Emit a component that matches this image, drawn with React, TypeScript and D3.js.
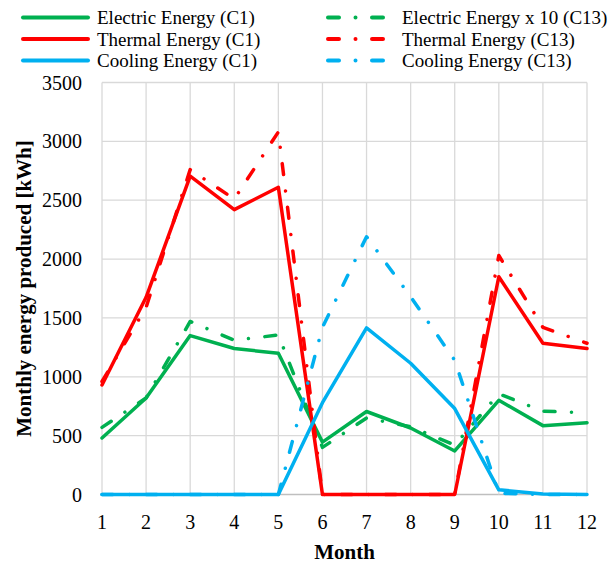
import React from "react";
import * as d3 from "d3";

// Monthly energy produced by two configurations (C1, C13)
const months = [1, 2, 3, 4, 5, 6, 7, 8, 9, 10, 11, 12];
const electricC1 = [480, 820, 1350, 1240, 1200, 445, 705, 565, 370, 800, 585, 610];
const electricC13x10 = [570, 820, 1470, 1310, 1355, 400, 650, 575, 420, 855, 708, 695];
const thermalC1 = [930, 1675, 2705, 2420, 2610, 0, 0, 0, 0, 1850, 1285, 1240];
const thermalC13 = [960, 1590, 2760, 2510, 3080, 0, 0, 0, 0, 2030, 1420, 1285];
const coolingC1 = [0, 0, 0, 0, 0, 780, 1415, 1115, 730, 40, 5, 0];
const coolingC13 = [0, 0, 0, 0, 0, 1420, 2190, 1680, 1140, 10, 0, 0];
const yTicks = [0, 500, 1000, 1500, 2000, 2500, 3000, 3500];

const GREEN = "#00B050";
const RED = "#FF0000";
const BLUE = "#00B0F0";
const DASH_DOT = "11 16.5 0.01 16.5";
const FONT = "'Liberation Serif', 'Times New Roman', serif";

const series = [
  { name: "Electric Energy (C1)", values: electricC1, color: GREEN, dashed: false },
  { name: "Electric Energy x 10 (C13)", values: electricC13x10, color: GREEN, dashed: true },
  { name: "Thermal Energy (C1)", values: thermalC1, color: RED, dashed: false },
  { name: "Thermal Energy (C13)", values: thermalC13, color: RED, dashed: true },
  { name: "Cooling Energy (C1)", values: coolingC1, color: BLUE, dashed: false },
  { name: "Cooling Energy (C13)", values: coolingC13, color: BLUE, dashed: true },
];

const W = 614;
const H = 565;
const plot = { left: 102, right: 587, top: 82.5, bottom: 494.5 };

export default function App() {
  const x = d3.scaleLinear().domain([1, 12]).range([plot.left, plot.right]);
  const y = d3.scaleLinear().domain([0, 3500]).range([plot.bottom, plot.top]);
  const line = d3
    .line<number>()
    .x((_, i) => x(months[i]))
    .y((d) => y(d));

  const legendRows = [17.5, 39, 60.5];
  const legendCols = [
    { x1: 23, x2: 88, tx: 97 },
    { x1: 328, x2: 383, tx: 402 },
  ];

  return (
    <svg
      width={W}
      height={H}
      style={{ position: "absolute", left: 0, top: 0, background: "#fff" }}
      fontFamily={FONT}
    >
      <rect width={W} height={H} fill="#fff" />
      {/* gridlines */}
      {yTicks.map((t) => (
        <line
          key={"gy" + t}
          x1={plot.left}
          x2={plot.right}
          y1={y(t)}
          y2={y(t)}
          stroke={t === 0 ? "#bfbfbf" : "#d9d9d9"}
          strokeWidth={1.3}
        />
      ))}
      {months.map((m) => (
        <line
          key={"gx" + m}
          x1={x(m)}
          x2={x(m)}
          y1={plot.top}
          y2={plot.bottom}
          stroke="#d9d9d9"
          strokeWidth={1.3}
        />
      ))}
      {/* y tick labels */}
      {yTicks.map((t) => (
        <text key={"ty" + t} x={82} y={y(t) + 7} textAnchor="end" fontSize={20} fill="#000">
          {t}
        </text>
      ))}
      {/* x tick labels */}
      {months.map((m) => (
        <text key={"tx" + m} x={x(m)} y={528.5} textAnchor="middle" fontSize={20} fill="#000">
          {m}
        </text>
      ))}
      {/* axis titles */}
      <text
        x={(plot.left + plot.right) / 2}
        y={559}
        textAnchor="middle"
        fontSize={21}
        fontWeight="bold"
        fill="#000"
      >
        Month
      </text>
      <text
        transform={`translate(31,${(plot.top + plot.bottom) / 2}) rotate(-90)`}
        textAnchor="middle"
        fontSize={21}
        fontWeight="bold"
        fill="#000"
      >
        Monthly energy produced [kWh]
      </text>
      {/* series */}
      {series.map((s) => (
        <path
          key={s.name}
          d={line(s.values) || ""}
          fill="none"
          stroke={s.color}
          strokeWidth={3.5}
          strokeLinecap="round"
          strokeLinejoin="round"
          strokeDasharray={s.dashed ? DASH_DOT : undefined}
        />
      ))}
      {/* legend: two columns, filled row by row */}
      {series.map((s, i) => {
        const col = legendCols[i % 2];
        const ry = legendRows[Math.floor(i / 2)];
        return (
          <g key={"lg" + s.name}>
            <line
              x1={col.x1}
              x2={col.x2}
              y1={ry}
              y2={ry}
              stroke={s.color}
              strokeWidth={4}
              strokeLinecap="round"
              strokeDasharray={s.dashed ? DASH_DOT : undefined}
            />
            <text x={col.tx} y={ry + 6.5} fontSize={19} fill="#000">
              {s.name}
            </text>
          </g>
        );
      })}
    </svg>
  );
}
